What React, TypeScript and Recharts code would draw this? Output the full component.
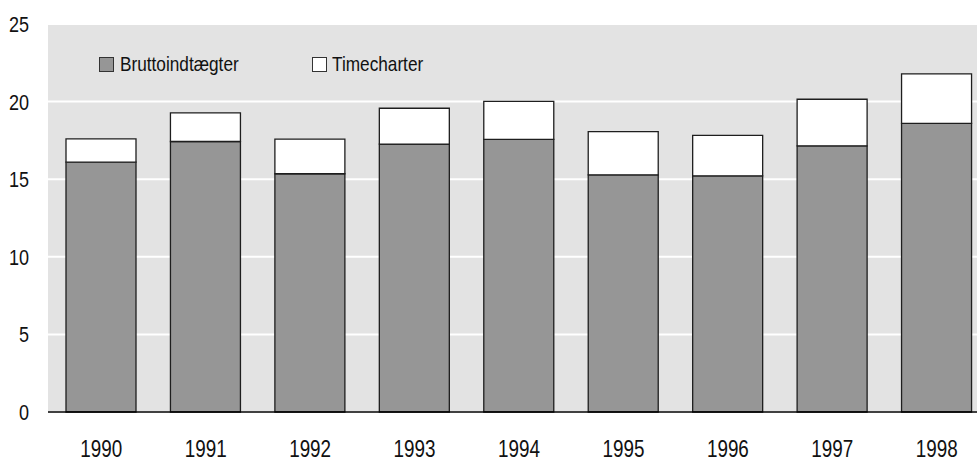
import React from 'react';
import { BarChart, Bar, XAxis, YAxis, CartesianGrid } from 'recharts';

const years = ['1990', '1991', '1992', '1993', '1994', '1995', '1996', '1997', '1998'];
const bruttoindtaegter = [16.1, 17.43, 15.35, 17.26, 17.56, 15.28, 15.22, 17.15, 18.6];
const timecharter = [1.5, 1.84, 2.23, 2.31, 2.46, 2.79, 2.61, 3.0, 3.18];
const yTicks = [0, 5, 10, 15, 20, 25];
const seriesNames = ['Bruttoindtægter', 'Timecharter'];

const data = years.map((y, i) => ({ year: y, brutto: bruttoindtaegter[i], time: timecharter[i] }));

const FONT = "'Liberation Sans', Arial, sans-serif";
const GRAY = '#969696';
const BG = '#e3e3e3';
const EDGE = '#1e1e1e';
const NARROW = 0.82;

const XTick = (props: any) => {
  const { x, y, payload } = props;
  return (
    <text
      transform={`translate(${x},${y + 45}) scale(${NARROW},1)`}
      x={0}
      y={0}
      textAnchor="middle"
      fontFamily={FONT}
      fontSize={23}
      fill="#111"
    >
      {payload.value}
    </text>
  );
};

const YTick = (props: any) => {
  const { x, y, payload } = props;
  return (
    <text
      transform={`translate(${x - 19},${y + 8}) scale(${NARROW},1)`}
      x={0}
      y={0}
      textAnchor="end"
      fontFamily={FONT}
      fontSize={22}
      fill="#111"
    >
      {payload.value}
    </text>
  );
};

const spanStyle: React.CSSProperties = {
  position: 'absolute',
  top: 0,
  whiteSpace: 'nowrap',
  transform: `scaleX(${NARROW})`,
  transformOrigin: 'left center',
};

export default function App() {
  return (
    <div style={{ position: 'relative', width: 977, height: 459, overflow: 'hidden', background: '#fff' }}>
      <style>{'html,body{margin:0;padding:0;overflow:hidden;}'}</style>
      <BarChart
        width={989}
        height={459}
        data={data}
        margin={{ top: 24, right: 0, bottom: 0, left: 0 }}
        barSize={70}
      >
        <CartesianGrid vertical={false} fill={BG} stroke="#ffffff" strokeWidth={2} />
        <YAxis
          width={48}
          domain={[0, 25]}
          ticks={yTicks}
          axisLine={false}
          tickLine={false}
          tickSize={0}
          tickMargin={0}
          tick={<YTick />}
          interval={0}
        />
        <XAxis
          dataKey="year"
          height={47}
          padding={{ left: 1, right: 0 }}
          axisLine={{ stroke: '#000', strokeWidth: 1.5 }}
          tickLine={false}
          tickSize={0}
          tickMargin={0}
          tick={<XTick />}
          interval={0}
        />
        <Bar dataKey="brutto" name={seriesNames[0]} stackId="a" fill={GRAY} stroke={EDGE} strokeWidth={1.3} isAnimationActive={false} />
        <Bar dataKey="time" name={seriesNames[1]} stackId="a" fill="#ffffff" stroke={EDGE} strokeWidth={1.3} isAnimationActive={false} />
      </BarChart>
      <div style={{ position: 'absolute', top: 54, left: 99, height: 20, width: 500, fontFamily: FONT, fontSize: 21, lineHeight: '20px', color: '#111' }}>
        <div style={{ position: 'absolute', left: 0, top: 3, width: 13, height: 13, background: GRAY, border: '1px solid #333' }} />
        <span style={{ ...spanStyle, left: 21 }}>{seriesNames[0]}</span>
        <div style={{ position: 'absolute', left: 213, top: 3, width: 13, height: 13, background: '#fff', border: '1px solid #333' }} />
        <span style={{ ...spanStyle, left: 233 }}>{seriesNames[1]}</span>
      </div>
    </div>
  );
}
